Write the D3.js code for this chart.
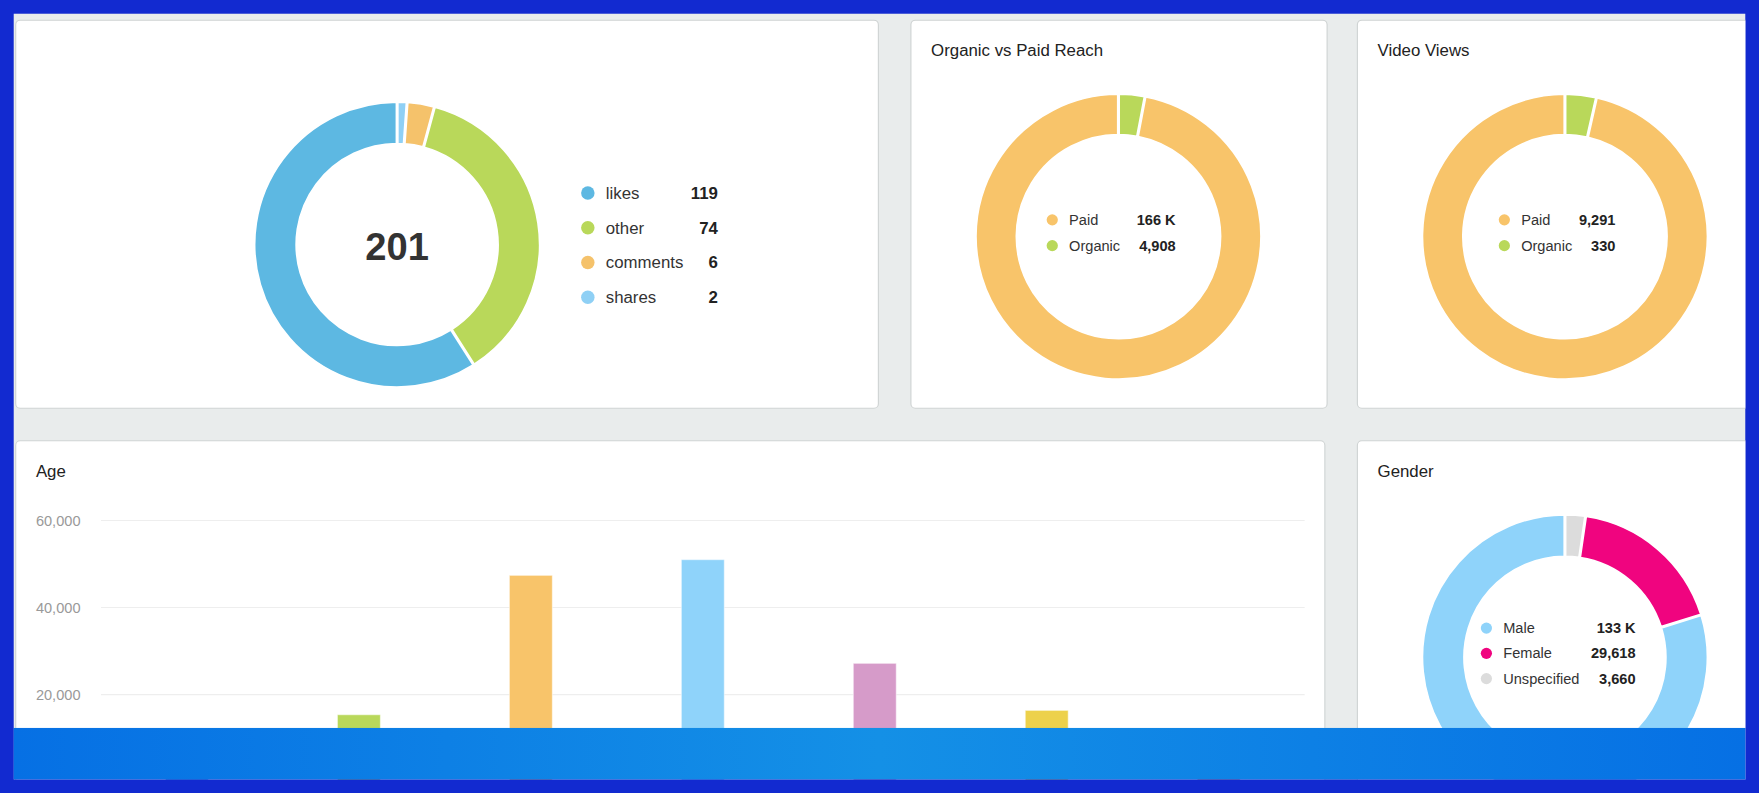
<!DOCTYPE html>
<html><head><meta charset="utf-8">
<script src="https://cdn.jsdelivr.net/npm/d3@7"></script>
<style>
html,body{margin:0;padding:0;overflow:hidden;background:#122ad0}
svg{display:block;font-family:"Liberation Sans",Arial,sans-serif}
</style></head>
<body><svg id="c"></svg>
<script>
// layout is worked in reference-picture units, then scaled to the window
const W = 1568, H = 707;

const engageLabels = ["shares", "comments", "other", "likes"];
const engageValues = [2, 6, 74, 119];
const engageColors = ["#8fd0f5", "#f5c26b", "#b9d85a", "#5db8e2"];
const engageLegendOrder = ["likes", "other", "comments", "shares"];

const reachLabels = ["Organic", "Paid"];
const reachValues = [4908, 166000];
const reachText = ["4,908", "166 K"];

const videoLabels = ["Organic", "Paid"];
const videoValues = [330, 9291];
const videoText = ["330", "9,291"];

const genderLabels = ["Unspecified", "Female", "Male"];
const genderValues = [3660, 29618, 133000];
const genderText = ["3,660", "29,618", "133 K"];
const genderColors = ["#dcdcdc", "#f0047f", "#8fd3fa"];

const ageLabels = ["13-17", "18-24", "25-34", "35-44", "45-54", "55-64", "65+"];
const ageValues = [1200, 15400, 47400, 51000, 27200, 16400, 7000];
const ageColors = ["#5db8e2", "#b9d85a", "#f8c46a", "#8fd3fa", "#d69bc9", "#edd14b", "#f5a27a"];
const ageTicks = [20000, 40000, 60000];

const svg = d3.select("#c").attr("width", 1759).attr("height", 793)
  .attr("viewBox", [0, 0, W, H]).attr("preserveAspectRatio", "none");

svg.append("rect").attr("x", 12).attr("y", 12).attr("width", 1544).attr("height", 684).attr("fill", "#e9ecec");

function card(x, y, w, h, title) {
  svg.append("rect").attr("x", x).attr("y", y).attr("width", w).attr("height", h)
    .attr("rx", 4).attr("fill", "#fff").attr("stroke", "#cfd3d3");
  if (title) svg.append("text").attr("x", x + 18).attr("y", y + 32)
    .attr("font-size", 15).attr("fill", "#222").text(title);
}
card(14, 18, 769, 346);
card(812, 18, 371, 346, "Organic vs Paid Reach");
card(1210, 18, 360, 346, "Video Views");
card(14, 393, 1167, 320, "Age");
card(1210, 393, 360, 320, "Gender");

function donut(cx, cy, r0, r1, values, colors) {
  const pie = d3.pie().sort(null).padAngle(0.008)(values);
  const arc = d3.arc().innerRadius(r0).outerRadius(r1);
  svg.append("g").attr("transform", `translate(${cx},${cy})`)
    .selectAll("path").data(pie).join("path")
    .attr("d", arc).attr("fill", (d, i) => colors[i])
    .attr("stroke", "#fff").attr("stroke-width", 1.5);
}

function legend(x, y, dy, labels, texts, colors, valueX, size, r) {
  const g = svg.append("g");
  labels.forEach((l, i) => {
    const yy = y + i * dy;
    g.append("circle").attr("cx", x).attr("cy", yy).attr("r", r).attr("fill", colors[i]);
    g.append("text").attr("x", x + r + 10).attr("y", yy).attr("dy", "0.35em")
      .attr("font-size", size).attr("fill", "#333").text(l);
    g.append("text").attr("x", valueX).attr("y", yy).attr("dy", "0.35em")
      .attr("text-anchor", "end").attr("font-size", size).attr("font-weight", "bold")
      .attr("fill", "#222").text(texts[i]);
  });
}

// engagement
donut(354, 218, 90, 127, engageValues, engageColors);
svg.append("text").attr("x", 354).attr("y", 220).attr("dy", "0.35em").attr("text-anchor", "middle")
  .attr("font-size", 34).attr("font-weight", "bold").attr("fill", "#333").text(d3.sum(engageValues));
const eIdx = engageLegendOrder.map(l => engageLabels.indexOf(l));
legend(524, 172, 31, engageLegendOrder, eIdx.map(i => String(engageValues[i])),
  eIdx.map(i => engageColors[i]), 640, 15, 6);

const rvColors = ["#b9d85a", "#f8c46a"];
donut(997, 211, 91, 127, reachValues, rvColors);
legend(938, 196, 23, ["Paid", "Organic"], [reachText[1], reachText[0]], [rvColors[1], rvColors[0]], 1048, 13, 5);

donut(1395, 211, 91, 127, videoValues, rvColors);
legend(1341, 196, 23, ["Paid", "Organic"], [videoText[1], videoText[0]], [rvColors[1], rvColors[0]], 1440, 13, 5);

donut(1395, 586, 90, 127, genderValues, genderColors);
legend(1325, 560, 22.5, ["Male", "Female", "Unspecified"], [genderText[2], genderText[1], genderText[0]],
  [genderColors[2], genderColors[1], genderColors[0]], 1458, 13, 5);

// age bars
const x = d3.scaleBand().domain(ageLabels).range([90, 1163]).paddingInner(0.75).paddingOuter(0.375);
const y = d3.scaleLinear().domain([0, 60000]).range([697, 464]);
const ga = svg.append("g");
ga.selectAll("line").data(ageTicks).join("line")
  .attr("x1", 90).attr("x2", 1163).attr("y1", d => y(d)).attr("y2", d => y(d))
  .attr("stroke", "#eeeeee");
ga.selectAll("text").data(ageTicks).join("text")
  .attr("x", 32).attr("y", d => y(d)).attr("dy", "0.35em").attr("font-size", 13)
  .attr("fill", "#999").text(d3.format(","));
ga.selectAll("rect").data(ageValues).join("rect")
  .attr("x", (d, i) => x(ageLabels[i])).attr("width", x.bandwidth())
  .attr("y", d => y(d)).attr("height", d => y(0) - y(d))
  .attr("fill", (d, i) => ageColors[i]).attr("stroke", "#fff").attr("stroke-opacity", 0.5);

// bottom taskbar strip and frame
const grad = svg.append("defs").append("linearGradient").attr("id", "tb");
grad.append("stop").attr("offset", 0).attr("stop-color", "#0670e4");
grad.append("stop").attr("offset", 0.5).attr("stop-color", "#1490e6");
grad.append("stop").attr("offset", 1).attr("stop-color", "#0670e4");
svg.append("rect").attr("x", 12).attr("y", 649).attr("width", 1544).attr("height", 46).attr("fill", "url(#tb)");
svg.append("path").attr("fill", "#122ad0").attr("fill-rule", "evenodd")
  .attr("d", `M0,0H${W}V${H}H0Z M12,12V695H1556V12Z`);
</script></body></html>
